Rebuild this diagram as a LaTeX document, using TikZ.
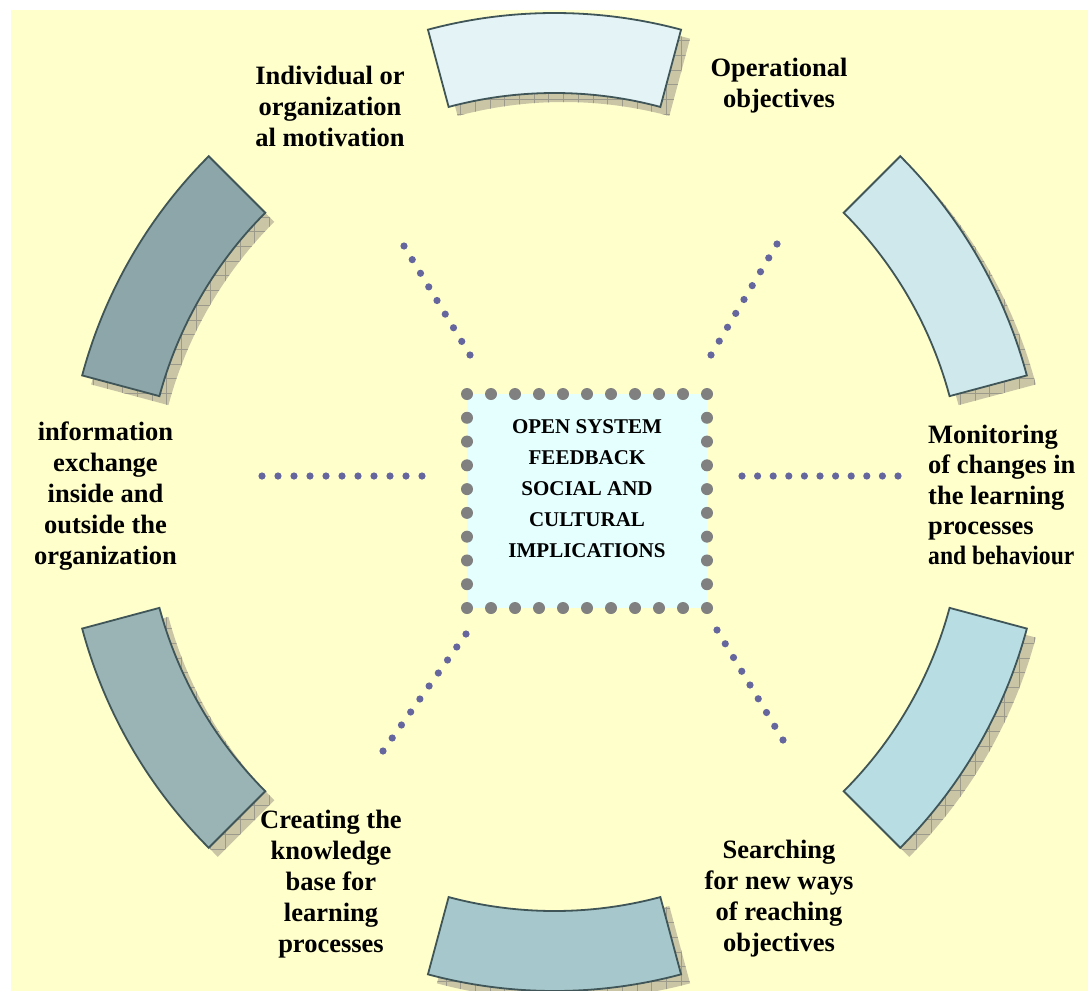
\documentclass[tikz,border=0pt]{standalone}
\usepackage{fontspec}
\setmainfont{Liberation Serif}
\usetikzlibrary{calc}
\definecolor{bg}{HTML}{FFFFCC}
\definecolor{shadowcol}{HTML}{C9C5A5}
\definecolor{gridcol}{HTML}{9C9A8A}
\definecolor{segline}{HTML}{3F5558}
\definecolor{segA}{HTML}{E4F4F6}
\definecolor{segB}{HTML}{CEE8EC}
\definecolor{segC}{HTML}{B8DEE3}
\definecolor{segD}{HTML}{A6C8CC}
\definecolor{segE}{HTML}{9AB4B6}
\definecolor{segF}{HTML}{8DA6A9}
\definecolor{boxfill}{HTML}{E5FFFF}
\definecolor{boxdot}{HTML}{808080}
\definecolor{raydot}{HTML}{66669E}
\tikzset{
  lbl/.style={inner sep=0pt, align=center, font=\bfseries\fontsize{26.5}{31}\selectfont},
  lblleft/.style={inner sep=0pt, align=left, font=\bfseries\fontsize{26.5}{30.2}\selectfont},
  coretext/.style={inner sep=0pt, align=center, font=\bfseries\fontsize{21}{31}\selectfont},
  seg/.style={draw=segline, line width=1.8pt, line join=miter},
}
\begin{document}
\begin{tikzpicture}[x=1pt,y=1pt]
\useasboundingbox (0,0) rectangle (1088,-991);
\fill[white] (0,0) rectangle (1088,-991);
\fill[bg] (11,-10) rectangle (1088,-991);
\coordinate (C) at (554.5,-502);
% shadows
\foreach \a in {90,30,-30,-90,-150,150} {
  \begin{scope}[shift={(563.5,-511)}]
    \fill[shadowcol] (\a-15:489) arc[start angle=\a-15,end angle=\a+15,radius=489] -- (\a+15:409) arc[start angle=\a+15,end angle=\a-15,radius=409] -- cycle;
    \clip (\a-15:489) arc[start angle=\a-15,end angle=\a+15,radius=489] -- (\a+15:409) arc[start angle=\a+15,end angle=\a-15,radius=409] -- cycle;
    \draw[gridcol, line width=0.8pt] (-568.5,-520) grid[step=14.7] (568.5,520);
  \end{scope}
}
% segments
\foreach \a/\col in {90/segA,30/segB,-30/segC,-90/segD,-150/segE,150/segF} {
  \begin{scope}[shift={(C)}]
    \draw[seg, fill=\col] (\a-15:489) arc[start angle=\a-15,end angle=\a+15,radius=489] -- (\a+15:409) arc[start angle=\a+15,end angle=\a-15,radius=409] -- cycle;
  \end{scope}
}
% central box
\fill[boxfill] (467,-394) rectangle (707,-608);
\foreach \i in {0,...,10} {
  \fill[boxdot] (467+24*\i,-394) circle (6);
  \fill[boxdot] (467+24*\i,-608) circle (6);
}
\foreach \j in {1,...,8} {
  \fill[boxdot] (467,-394-23.778*\j) circle (6);
  \fill[boxdot] (707,-394-23.778*\j) circle (6);
}
\node[coretext] (core) at (587,-489) {OPEN SYSTEM\\FEEDBACK\\SOCIAL AND\\CULTURAL\\IMPLICATIONS};
% rays
\coordinate (ul1) at (404,-246); \coordinate (ul2) at (470,-355);
\coordinate (ur1) at (777,-244); \coordinate (ur2) at (711,-355);
\coordinate (l1) at (262,-476); \coordinate (l2) at (422,-476);
\coordinate (r1) at (742,-476); \coordinate (r2) at (898,-476);
\coordinate (ll1) at (466,-634); \coordinate (ll2) at (383,-751);
\coordinate (lr1) at (717,-630); \coordinate (lr2) at (783,-740);
\foreach \p/\q/\n in {ul1/ul2/8, ur1/ur2/8, l1/l2/10, r1/r2/10, ll1/ll2/9, lr1/lr2/8} {
  \foreach \k in {0,...,\n} {
    \fill[raydot] ($(\p)!\k/\n!(\q)$) circle (3.6);
  }
}
% labels
\node[lbl] (motiv) at (330,-106) {Individual or\\organization\\al motivation};
\node[lbl] (oper) at (779,-85.5) {Operational\\objectives};
\node[lbl] (info) at (105.5,-496) {information\\exchange\\inside and\\outside the\\organization};
\node[lblleft, anchor=west] (monit) at (928,-495) {Monitoring\\of changes in\\the learning\\processes\\\scalebox{0.89}[1]{and behaviour}};
\node[lbl] (create) at (331,-884) {Creating the\\knowledge\\base for\\learning\\processes};
\node[lbl] (search) at (779,-899) {Searching\\for new ways\\of reaching\\objectives};
\end{tikzpicture}
\end{document}
